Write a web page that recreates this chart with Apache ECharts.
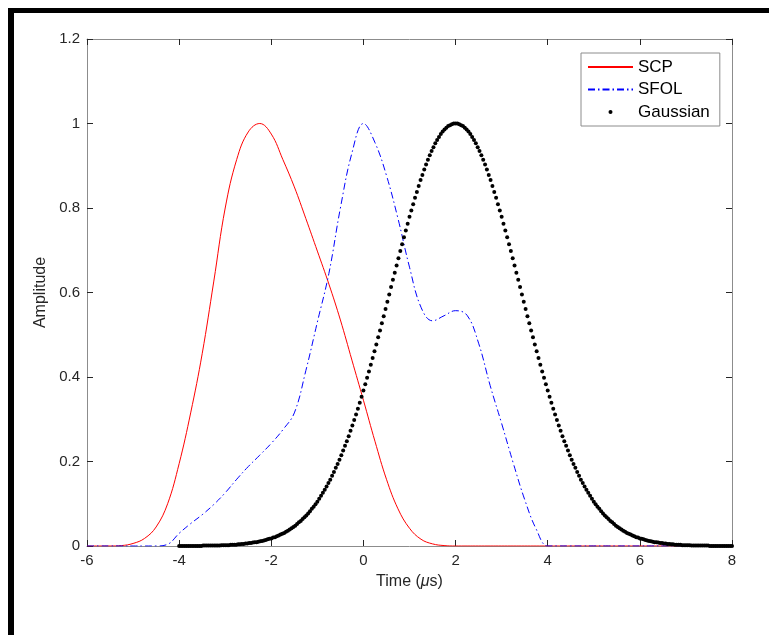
<!DOCTYPE html>
<html>
<head>
<meta charset="utf-8">
<script src="https://cdn.jsdelivr.net/npm/echarts@6/dist/echarts.min.js"></script>
<style>
  html, body { margin: 0; padding: 0; background: #fff; }
  #chart { width: 769px; height: 635px; }
</style>
</head>
<body>
<div id="chart"></div>
<script>
// time grid for the SCP and SFOL pulses (µs)
const time = [
  -6, -5.75, -5.5, -5.25, -5, -4.75, -4.5, -4.25,
  -4, -3.75, -3.5, -3.25, -3, -2.75, -2.5, -2.25,
  -2, -1.75, -1.5, -1.25, -1, -0.75, -0.5, -0.25,
  0, 0.25, 0.5, 0.75, 1, 1.25, 1.5, 1.75,
  2, 2.25, 2.5, 2.75, 3, 3.25, 3.5, 3.75,
  4, 4.25, 4.5, 4.75, 5, 5.25, 5.5, 5.75,
  6, 6.25, 6.5, 6.75, 7, 7.25, 7.5, 7.75,
  8
]

const scp = [
  0, 0, 0, 0.001, 0.006, 0.018, 0.045, 0.1,
  0.195, 0.315, 0.455, 0.625, 0.8, 0.915, 0.98, 1.0,
  0.975, 0.915, 0.85, 0.775, 0.698, 0.62, 0.535, 0.44,
  0.345, 0.248, 0.158, 0.088, 0.042, 0.016, 0.005, 0.001,
  0, 0, 0, 0, 0, 0, 0, 0,
  0, 0, 0, 0, 0, 0, 0, 0,
  0, 0, 0, 0, 0, 0, 0, 0,
  0
]

const sfol = [
  0, 0, 0, 0, 0, 0, 0, 0.004,
  0.03, 0.053, 0.074, 0.098, 0.126, 0.158, 0.188, 0.215,
  0.243, 0.275, 0.315, 0.415, 0.53, 0.645, 0.8, 0.93,
  1.0, 0.955, 0.877, 0.775, 0.66, 0.565, 0.533, 0.545,
  0.557, 0.546, 0.48, 0.38, 0.29, 0.197, 0.11, 0.04,
  0, 0, 0, 0, 0, 0, 0, 0,
  0, 0, 0, 0, 0, 0, 0, 0,
  0
]

// Gaussian samples, from t = -4 to t = 8, every 0.04 µs
const gaussStart = -4
const gaussStep = 0.04
const gauss = [
  0, 0, 0, 0, 0, 0, 0, 0, 0, 0, 0, 0, 0,
  0.001, 0.001, 0.001, 0.001, 0.001, 0.001, 0.001, 0.001, 0.001, 0.001,
  0.002, 0.002, 0.002, 0.002, 0.002,
  0.003, 0.003, 0.003, 0.003,
  0.004, 0.004, 0.005, 0.005, 0.006, 0.006, 0.007, 0.007, 0.008, 0.009, 0.009,
  0.010, 0.011, 0.012, 0.013, 0.014, 0.016, 0.017, 0.018, 0.020, 0.021,
  0.023, 0.025, 0.027, 0.029, 0.031, 0.034, 0.036, 0.039, 0.042, 0.045,
  0.048, 0.052, 0.056, 0.059, 0.064, 0.068, 0.072, 0.077, 0.082, 0.088,
  0.093, 0.099, 0.105, 0.112, 0.119, 0.126, 0.133, 0.141, 0.149, 0.157,
  0.166, 0.175, 0.185, 0.194, 0.204, 0.215, 0.226, 0.237, 0.248, 0.260,
  0.273, 0.285, 0.298, 0.311, 0.325, 0.339, 0.353, 0.368, 0.383, 0.398,
  0.413, 0.429, 0.445, 0.461, 0.477, 0.494, 0.510, 0.527, 0.544, 0.561,
  0.578, 0.595, 0.613, 0.630, 0.647, 0.664, 0.681, 0.698, 0.714, 0.731,
  0.747, 0.763, 0.779, 0.794, 0.809, 0.824, 0.838, 0.852, 0.866, 0.878,
  0.891, 0.903, 0.914, 0.925, 0.935, 0.944, 0.953, 0.961, 0.968, 0.975,
  0.981, 0.986, 0.990, 0.994, 0.996, 0.998, 1.000,
  1.000,
  1.000, 0.998, 0.996, 0.994, 0.990, 0.986, 0.981,
  0.975, 0.968, 0.961, 0.953, 0.944, 0.935, 0.925, 0.914, 0.903, 0.891,
  0.878, 0.866, 0.852, 0.838, 0.824, 0.809, 0.794, 0.779, 0.763, 0.747,
  0.731, 0.714, 0.698, 0.681, 0.664, 0.647, 0.630, 0.613, 0.595, 0.578,
  0.561, 0.544, 0.527, 0.510, 0.494, 0.477, 0.461, 0.445, 0.429, 0.413,
  0.398, 0.383, 0.368, 0.353, 0.339, 0.325, 0.311, 0.298, 0.285, 0.273,
  0.260, 0.248, 0.237, 0.226, 0.215, 0.204, 0.194, 0.185, 0.175, 0.166,
  0.157, 0.149, 0.141, 0.133, 0.126, 0.119, 0.112, 0.105, 0.099, 0.093,
  0.088, 0.082, 0.077, 0.072, 0.068, 0.064, 0.059, 0.056, 0.052, 0.048,
  0.045, 0.042, 0.039, 0.036, 0.034, 0.031, 0.029, 0.027, 0.025, 0.023,
  0.021, 0.020, 0.018, 0.017, 0.016, 0.014, 0.013, 0.012, 0.011, 0.010,
  0.009, 0.009, 0.008, 0.007, 0.007, 0.006, 0.006, 0.005, 0.005, 0.004, 0.004,
  0.003, 0.003, 0.003, 0.003,
  0.002, 0.002, 0.002, 0.002, 0.002,
  0.001, 0.001, 0.001, 0.001, 0.001, 0.001, 0.001, 0.001, 0.001, 0.001,
  0, 0, 0, 0, 0, 0, 0, 0, 0, 0, 0, 0, 0
]

const xTicks = { min: -6, max: 8, interval: 2 }
const yTicks = { min: 0, max: 1.2, interval: 0.2 }

const font = 'Liberation Sans, Arial, Helvetica, sans-serif'
const axisColor = '#262626'
const boxColor = '#8c8c8c'

const zip = (xs, ys) => xs.map((x, i) => [x, ys[i]])
const gaussData = gauss.map((v, i) => [+(gaussStart + i * gaussStep).toFixed(2), v])

const axisBase = {
  type: 'value',
  axisLine: { show: true, onZero: false, lineStyle: { color: boxColor, width: 1 } },
  axisTick: { show: true, inside: true, length: 6, lineStyle: { color: axisColor, width: 1 } },
  splitLine: { show: false },
}

const chart = echarts.init(document.getElementById('chart'), null, { renderer: 'canvas' })

chart.setOption({
  animation: false,
  backgroundColor: '#fff',
  textStyle: { fontFamily: font },
  grid: { left: 87, right: 37, top: 39, bottom: 89, containLabel: false },
  graphic: [
    // thick black frame on the top and left of the picture
    { type: 'rect', shape: { x: 8, y: 8, width: 761, height: 5 }, style: { fill: '#000' }, silent: true },
    { type: 'rect', shape: { x: 8, y: 8, width: 6, height: 627 }, style: { fill: '#000' }, silent: true },
  ],
  legend: {
    orient: 'vertical',
    left: 581,
    top: 53,
    padding: [5, 10, 5, 6],
    itemGap: 4.5,
    itemWidth: 45,
    itemHeight: 4,
    backgroundColor: '#fff',
    borderColor: boxColor,
    borderWidth: 1,
    borderRadius: 0,
    textStyle: { fontFamily: font, fontSize: 17, color: '#000', lineHeight: 18 },
    data: [
      { name: 'SCP', itemStyle: { opacity: 0 } },
      { name: 'SFOL', itemStyle: { opacity: 0 } },
      { name: 'Gaussian' },
    ],
  },
  xAxis: [
    {
      ...axisBase,
      ...xTicks,
      position: 'bottom',
      name: 'Time ({i|μ}s)',
      nameLocation: 'middle',
      nameGap: 28,
      nameTextStyle: {
        fontFamily: font,
        fontSize: 16,
        color: axisColor,
        rich: { i: { fontFamily: font, fontSize: 16, fontStyle: 'italic', color: axisColor } },
      },
      axisLabel: { fontFamily: font, fontSize: 15, color: axisColor, margin: 7 },
    },
    {
      ...axisBase,
      ...xTicks,
      position: 'top',
      axisLabel: { show: false },
    },
  ],
  yAxis: [
    {
      ...axisBase,
      ...yTicks,
      position: 'left',
      name: 'Amplitude',
      nameLocation: 'middle',
      nameGap: 34,
      nameTextStyle: { fontFamily: font, fontSize: 16, color: axisColor },
      axisLabel: { fontFamily: font, fontSize: 15, color: axisColor, margin: 7 },
    },
    {
      ...axisBase,
      ...yTicks,
      position: 'right',
      axisLabel: { show: false },
    },
  ],
  series: [
    {
      name: 'SCP',
      type: 'line',
      data: zip(time, scp),
      smooth: 0.4,
      symbol: 'none',
      lineStyle: { color: '#ff0000', width: 1 },
      itemStyle: { color: '#ff0000' },
      z: 3,
    },
    {
      name: 'SFOL',
      type: 'line',
      data: zip(time, sfol),
      smooth: 0.4,
      symbol: 'none',
      lineStyle: { color: '#0000ff', width: 1, type: [7, 3, 1.5, 3] },
      itemStyle: { color: '#0000ff' },
      z: 3,
    },
    {
      name: 'Gaussian',
      type: 'scatter',
      data: gaussData,
      symbol: 'circle',
      symbolSize: 4,
      itemStyle: { color: '#000', opacity: 1 },
      z: 4,
    },
  ],
})
</script>
</body>
</html>
